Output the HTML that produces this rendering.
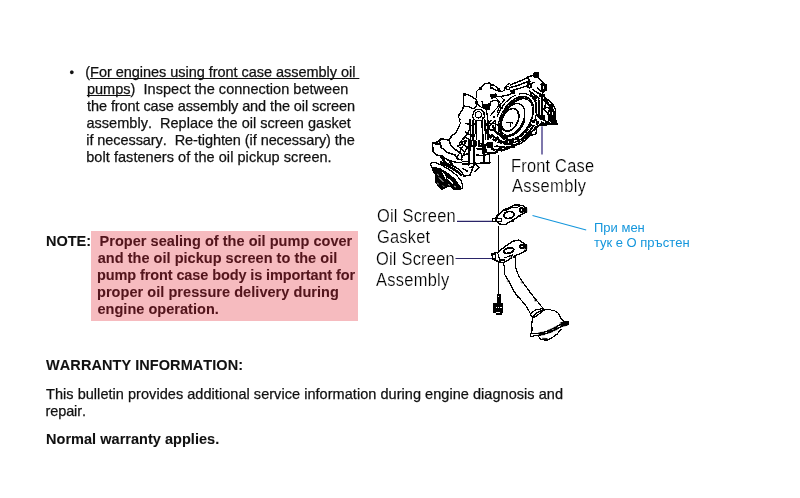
<!DOCTYPE html>
<html><head><meta charset="utf-8"><title>Oil pump bulletin</title>
<style>
html,body{margin:0;padding:0;background:#fff;}
body{will-change:transform;width:800px;height:498px;position:relative;overflow:hidden;font-family:"Liberation Sans",sans-serif;color:#111;}
.t{position:absolute;white-space:pre;font-size:14.5px;line-height:17px;height:17px;font-kerning:none;-webkit-text-stroke:0.25px currentColor;}
.b{font-weight:bold;-webkit-text-stroke:0.08px currentColor;}
.u{text-decoration:underline;text-decoration-thickness:1.2px;text-underline-offset:1px;text-decoration-skip-ink:none;}
#hl{position:absolute;left:91px;top:231px;width:267.4px;height:89.7px;background:#f6bbbf;}
.m{color:#53151c;}
.d{position:absolute;white-space:pre;font-size:17.6px;line-height:20px;color:#000;transform:scaleX(0.935);transform-origin:0 0;font-kerning:none;-webkit-text-stroke:0.2px #fff;letter-spacing:0.22px;}
.c{position:absolute;white-space:pre;font-size:13px;line-height:15px;color:#1496dc;font-kerning:none;}
svg{position:absolute;left:0;top:0;}
</style></head><body>
<div class="t" style="left:69.6px;top:63.6px;font-size:13px;">•</div>
<div class="t" style="left:85.3px;top:64px;letter-spacing:-0.037px;">(<span class="u">For engines using front case assembly oil </span></div>
<div class="t" style="left:86.9px;top:81px;letter-spacing:0.03px;"><span class="u">pumps</span>)  Inspect the connection between</div>
<div class="t" style="left:87.1px;top:98px;letter-spacing:-0.088px;">the front case assembly and the oil screen</div>
<div class="t" style="left:86.5px;top:115px;letter-spacing:0.019px;">assembly.  Replace the oil screen gasket</div>
<div class="t" style="left:86.25px;top:132px;letter-spacing:-0.07px;">if necessary.  Re-tighten (if necessary) the</div>
<div class="t" style="left:86.25px;top:149px;letter-spacing:0.051px;">bolt fasteners of the oil pickup screen.</div>

<div id="hl"></div>
<div class="t b" style="left:46px;top:233px;">NOTE:</div>
<div class="t b m" style="left:99.6px;top:233px;letter-spacing:0.036px;">Proper sealing of the oil pump cover</div>
<div class="t b m" style="left:97.75px;top:250px;letter-spacing:0.029px;">and the oil pickup screen to the oil</div>
<div class="t b m" style="left:97px;top:267px;letter-spacing:-0.104px;">pump front case body is important for</div>
<div class="t b m" style="left:97px;top:284px;letter-spacing:0.051px;">proper oil pressure delivery during</div>
<div class="t b m" style="left:97.5px;top:301px;letter-spacing:0.031px;">engine operation.</div>

<div class="t b" style="left:46.1px;top:357px;letter-spacing:0.06px;">WARRANTY INFORMATION:</div>
<div class="t" style="left:46px;top:386px;letter-spacing:0.044px;">This bulletin provides additional service information during engine diagnosis and</div>
<div class="t" style="left:45.6px;top:403px;letter-spacing:-0.125px;">repair.</div>
<div class="t b" style="left:46px;top:431px;letter-spacing:0.033px;">Normal warranty applies.</div>

<div class="d" style="left:510.8px;top:155.5px;letter-spacing:0.2px;">Front Case</div>
<div class="d" style="left:511.5px;top:175.5px;letter-spacing:0.4px;">Assembly</div>
<div class="d" style="left:376.8px;top:206px;">Oil Screen</div>
<div class="d" style="left:377.3px;top:226.5px;">Gasket</div>
<div class="d" style="left:376px;top:249px;">Oil Screen</div>
<div class="d" style="left:376.3px;top:269.5px;letter-spacing:0.3px;">Assembly</div>

<div class="c" style="left:594px;top:220px;">При мен</div>
<div class="c" style="left:594px;top:235px;">тук е О пръстен</div>

<svg width="800" height="498" viewBox="0 0 800 498">
<defs><clipPath id="clipFront"><path d="M510 60H600V160H498V140H465V122H420V120H510Z"/></clipPath><clipPath id="clipA"><path d="M420 60H510V120H420Z"/></clipPath><clipPath id="clipMount"><path d="M400 122H465V140H498V200H400Z"/></clipPath></defs>
<g id="lines" fill="none" stroke-linecap="butt">
<path d="M542 126.2V154.5" stroke="#30267a" stroke-width="1.25"/><path d="M539 125.6H547" stroke="#cfcbee" stroke-width="1"/>
<path d="M457 221.35H493" stroke="#2a2468" stroke-width="1.3"/>
<path d="M455.5 258.5H492.5" stroke="#2a2468" stroke-width="1.1"/>
<path d="M532.5 215.5L586.2 230" stroke="#1496dc" stroke-width="1.1"/>
</g>
<g id="drawing" shape-rendering="crispEdges">
<g clip-path="url(#clipFront)">
<g transform="translate(430,70) scale(0.1627)" stroke="#000" stroke-width="9" fill="none" stroke-linejoin="round" stroke-linecap="round">
<!-- outer silhouette -->
<path d="M205,160 L225,150 L290,175 L295,120 L335,95 L370,90 L420,125 L450,130 L470,100 L510,85 L560,65 L600,45 L655,25 L675,60 L700,80 L705,110 L690,150 L720,180 L750,205 L770,240 L770,300 L780,320 L760,330 L720,325 L680,335 L650,350 L620,390 L600,420 L560,450 L500,470 L430,480"/>
<path d="M205,160 L205,220 L215,240 L200,260 L180,290 L180,320 L160,360 L130,410 L100,430 L60,420 L40,440 L20,450 L20,498"/>
<!-- top-left lug -->
<path d="M290,175 L300,200 L295,230 L280,245 L215,235"/>
<path d="M208,150 h18 v16 h-18z M300,108 h16 v12 h-16z M398,118 h14 v12 h-14z M438,128 h14 v12 h-14z M205,232 h12 v12 h-12z" fill="#000" stroke-width="6.5"/>
<path d="M372,150 L405,145 L408,165 L378,172Z" fill="#000"/>
<path d="M380,95 L400,125 L440,142 M405,165 L470,155 L520,140"/>
<path d="M478,112 L540,95 L600,72 M470,135 L520,122 L590,100 L640,75"/>
<path d="M640,18 h26 v24 h-26z" fill="#000"/>
<path d="M600,45 L612,70 L600,90" stroke-width="12"/>
<circle cx="512" cy="136" r="9" stroke-width="10"/>
<circle cx="612" cy="98" r="11" stroke-width="10"/>
<path d="M685,88 L712,92 L712,125 L690,128Z" stroke-width="13"/>
<!-- cluster under top-left -->
<path d="M320,195 L326,225 M340,215 L372,205 M372,198 L395,188 L420,193 L428,218 L445,235"/>
<path d="M332,212 L365,210 L360,240 L338,238Z" fill="#000"/>
<path d="M300,200 L320,215 L330,240 M420,160 L440,185 L470,200" />
<!-- hex ring -->
<path d="M262,262 L285,240 L318,245 L335,272 L322,305 L288,312 L262,295Z" stroke-width="10"/>
<circle cx="298" cy="276" r="20"/>
<!-- ribs -->
<path d="M265,300 L265,470 M283,312 L285,440 M340,250 L340,440 M357,300 L357,430 M320,305 L322,400" stroke-width="9"/>
<path d="M262,330 L285,332 M262,440 L290,442" stroke-width="12"/>
<path d="M345,340 L445,235 M360,350 L455,250 M350,300 L420,230" />
<path d="M340,330 L400,330 L440,350 M345,365 L395,370"/>
<path d="M380,290 h14 v14 h-14z M352,345 h16 v14 h-16z M258,395 h14 v14 h-14z" fill="#000" stroke-width="6.5"/>
<!-- rings moved -->
<path d="M470,322 L510,326 M492,330 L494,350" stroke-width="7"/>
<!-- right side details -->
<path d="M690,150 L690,300 M668,180 L672,290 M650,200 L652,260" stroke-width="10"/>
<path d="M700,185 L730,215 L745,250 L745,300 M720,230 L765,255" />
<path d="M678,280 h24 v24 h-24z M730,282 h22 v26 h-22z M752,300 h20 v22 h-20z" fill="#000" stroke-width="7"/>
<path d="M690,235 L720,260 L740,280 M700,310 L730,320"/>
<path d="M610,130 L640,150 L670,175 M630,120 L660,140 L685,150" />
<path d="M640,160 h16 v16 h-16z M675,150 h14 v14 h-14z" fill="#000" stroke-width="6.5"/>
<path d="M700,150 L712,200 L705,240 M715,180 L740,230 L725,270 M745,215 L760,260 L760,300" stroke-width="11"/>
<path d="M660,110 L680,130 M620,150 L650,190 M655,270 L680,300" stroke-width="12"/>
<!-- lower right of ring -->
<path d="M640,340 L610,380 L570,420 L520,445 L460,455" stroke-width="10"/>
<path d="M650,300 L660,340 M620,400 L650,395 L655,370"/>
<!-- bottom details -->
<path d="M380,400 L420,430 L470,455 L520,460" stroke-width="12"/>
<path d="M340,440 L380,445 L420,470 L470,480 L520,475" stroke-width="10"/>
<path d="M350,455 h40 v30 h-40z" fill="#000"/>
<path d="M400,470 L440,498 M300,440 L340,470 L330,498"/>
<!-- left arm / filter mount -->
<path d="M180,320 L230,330 L262,345 M200,400 L230,420 L262,440 M215,380 L250,400"/>
</g>
</g>
<g clip-path="url(#clipA)">
<g transform="translate(430,70) scale(0.1004)" stroke="#000" stroke-width="12.5" fill="none" stroke-linejoin="round" stroke-linecap="round">
<path d="M335,262 L342,242 L370,240 L410,262 L450,287 L465,272 L462,215 L490,188 L500,180 L555,132 L595,130 L612,150 L635,150 L660,170 L680,185 L705,215 L725,212 L745,195 L750,165 L775,142 L797,135"/>
<path d="M597,135 L610,180 L640,195 L700,215"/>
<path d="M335,262 L335,355 L350,362 L375,362 L440,388 L455,368 L470,332 L462,292 L450,287"/>
<path d="M335,358 L325,392 L300,430 L285,445 L285,470 L300,498"/>
<path d="M332,232 h30 v26 h-30z M484,172 h30 v24 h-30z M598,170 h26 v22 h-26z M668,176 h26 v22 h-26z M328,346 h24 v22 h-24z M452,312 h24 v26 h-24z M630,455 h20 v20 h-20z M516,466 h18 v18 h-18z M282,438 h20 v20 h-20z" fill="#000" stroke="none"/>
<path d="M603,243 L657,238 L662,268 L612,282 Z" fill="#000" stroke-width="10"/>
<path d="M655,268 L720,260 L797,245"/>
<path d="M520,315 L530,372" stroke-width="16"/>
<path d="M542,345 L600,335 L595,392 L548,390Z" fill="#000" stroke-width="10"/>
<path d="M600,320 L640,300 L680,310 L690,350 L720,385 M470,335 L500,365 L540,385"/>
<path d="M432,420 L455,395 L510,392 L538,420 L540,470 L520,498 M432,420 L425,465 L440,498" stroke-width="12"/>
<circle cx="482" cy="447" r="31" stroke-width="11"/>
<path d="M560,380 L568,440 L575,498"/>
<path d="M745,290 L700,350 L670,420 M600,455 L700,340" stroke-width="10.5"/>
<circle cx="775" cy="182" r="16" stroke-width="12"/>
<path d="M700,262 L740,300 M660,280 L700,330" stroke-width="10.5"/>
</g>
</g>
<g stroke="#000" fill="none">
<g transform="rotate(-60 516 118.6)">
<ellipse cx="516" cy="118.6" rx="27" ry="18" stroke-width="1.1" stroke-dasharray="30 3 12 4"/>
<path fill="#000" fill-rule="evenodd" stroke="none" d="M491.2,118.6 a24.8,15.4 0 1,0 49.6,0 a24.8,15.4 0 1,0 -49.6,0 Z M494.4,119.6 a21.6,12.6 0 1,0 43.2,0 a21.6,12.6 0 1,0 -43.2,0 Z"/>
<path d="M492.8,119.6 A23.2,14 0 0 1 539.2,117.6" stroke-width="3" stroke-linecap="butt"/>
<ellipse cx="516" cy="118.6" rx="23.2" ry="13.9" stroke="#fff" stroke-width="0.8" stroke-dasharray="1.2 8.3"/>
</g>
<ellipse cx="512.6" cy="119.4" rx="17" ry="10.4" transform="rotate(-62 512.6 119.4)" stroke-width="1.1"/>
<ellipse cx="510.1" cy="119.9" rx="12" ry="7.8" transform="rotate(-65 510.1 119.9)" stroke-width="1.7"/>
</g>
<g stroke="#000" stroke-width="1.1" fill="none" stroke-linejoin="round" stroke-linecap="round">
<path d="M459.4,121.5 L460.6,123 L457.3,130"/>
<path d="M459.6,143.4 L463.2,138.2 L467.2,134.1 L469.2,130.1 L470.7,124.1" stroke-width="1.2"/>
<path d="M457.6,146.6 L461,141.5 L465,137.5 L467.4,132.5" stroke-width="1.2" stroke-dasharray="1.4 1.6"/>
<path d="M470.7,120 V150" stroke-width="1.5"/>
<path d="M470.2,120 V126" stroke-width="2.4"/>
<path d="M482.5,126 V142 M484.3,120 V130" stroke-width="1.2"/>
</g>
<g transform="translate(480,120) scale(0.1)" stroke="#000" fill="none" stroke-linejoin="round" stroke-linecap="round">
<path d="M130,60 C150,130 220,185 300,160 S 420,70 445,0" stroke-width="22"/>
<path d="M55,90 C90,190 190,250 300,215 S 480,90 540,0" stroke-width="26" stroke-dasharray="46 14" stroke-linecap="butt"/>
<path d="M0,235 L100,258 L150,298 L250,300 L350,252 L450,182 L540,102 L600,52" stroke-width="13"/>
<path d="M30,150 V330" stroke-width="26"/>
<path d="M90,230 L110,270 M200,265 L240,270 M380,200 L400,215 M470,130 L500,120" stroke-width="18"/>
<path d="M560,20 L640,30 L700,10 L780,30" stroke-width="24" stroke-dasharray="30 16" stroke-linecap="butt"/>
<path d="M600,52 L700,48 L780,40" stroke-width="12"/>
</g>
<g clip-path="url(#clipMount)">
<g transform="translate(420,130) scale(0.125)" stroke="#000" stroke-width="12" fill="none" stroke-linejoin="round" stroke-linecap="round">
<!-- arm -->
<path d="M100,110 L150,90 L170,70 L230,80 L250,130 L300,170 L330,190 L335,240 L300,232 L280,200 L220,180 L170,140 L160,100"/>
<path d="M100,110 L105,170 L130,200 L180,210 L220,240 L290,260 L330,262"/>
<path d="M100,105 L150,112" stroke-width="16"/>
<path d="M180,220 L200,260 L290,300 L330,330 L350,370 L400,360 L420,310 L440,270"/>
<path d="M170,215 L185,240 M240,255 L255,270" stroke-width="16"/>
<path d="M160,256 L230,290 L300,334 L334,366" stroke-width="20" stroke-linecap="butt"/>
<path d="M178,222 L200,255" stroke-width="18"/>
<path d="M260,40 L230,80 M300,0 L280,30 L260,40" />
<!-- ribs right of arm -->
<path d="M390,60 L390,280 M432,60 L432,260 M510,130 L510,270 M555,190 L555,262 M340,272 L440,268 L560,262"/>
<path d="M412,85 h34 v42 h-34z" stroke-width="12"/>
<path d="M330,100 L370,80 M320,140 L350,170 M350,120 L370,130 M300,130 L340,110" stroke-width="12"/>
<path d="M470,130 L520,120 L560,100 M520,120 L530,180 L600,185 L640,160" stroke-width="13"/>
<path d="M570,150 L620,180 L650,170 M600,130 L700,120 L800,80" stroke-width="10"/>
<path d="M540,105 h40 v30 h-40z" fill="#000"/>
<path d="M300,215 L325,160 L350,120 L385,65 M330,235 L360,170 L385,130" stroke-width="12" stroke-dasharray="22 12"/>
<path d="M345,250 L385,250 M350,200 L385,190 M440,270 L470,300 L440,330 M400,300 L430,290 M345,310 L380,330" stroke-width="12"/>
<path d="M470,60 L470,125 M452,150 L510,150 M455,200 L505,205 M520,200 L550,190" stroke-width="12"/>
<path d="M425,255 h24 v22 h-24z M340,262 h18 v18 h-18z M500,110 h24 v22 h-24z M610,150 h22 v20 h-22z M355,95 h16 v16 h-16z" fill="#000" stroke="none"/>
</g>
<g transform="translate(425,150) scale(0.0844)" stroke="#000" stroke-width="14" fill="none" stroke-linejoin="round" stroke-linecap="round">
<path d="M85,210 L100,260 L130,300 L120,370 L140,400 L170,440 L200,470 L250,440 L300,430 L330,460 L400,470 L420,440 L380,370 L300,290 L200,230 L100,205 Z" fill="#000"/>
<path d="M65,165 L75,150 L110,145 L200,180 L300,240 L380,305 L430,370 L445,420 L440,455 L400,472" stroke-width="15"/>
<path d="M66,170 L85,210" stroke-width="16"/>
<path d="M95,183 L180,205 L280,265 L370,340 L420,420" stroke="#fff" stroke-width="17"/>
<path d="M205,262 L235,300 L240,335 M265,335 L330,395" stroke="#fff" stroke-width="13"/>
<path d="M170,330 L215,375 M150,290 l10,8 M150,395 l8,6 M215,425 l6,6 M280,410 l10,6 M350,430 l12,6" stroke="#fff" stroke-width="11"/>
</g>
</g>
<g stroke="#000" stroke-width="1.2" fill="none">
<path d="M498.5,155 V213 M498.5,226 V251 M498.5,263 V294"/>
</g>
<g transform="translate(450,195) scale(0.125)" stroke="#000" stroke-width="11" fill="none" stroke-linejoin="round" stroke-linecap="round">
<path d="M370,170 L430,120 L500,88 L520,80 L575,82 L610,105 L612,138 L560,162 L520,190 L440,238 L395,232 L365,205 Z"/>
<path d="M440,125 L500,100 L560,95" stroke-width="8"/>
<ellipse cx="472" cy="160" rx="42" ry="27" transform="rotate(-8 472 160)" stroke-width="13"/>
<circle cx="572" cy="121" r="15" stroke-width="15"/>
<path d="M592,106 h22 v32 h-22z" fill="#000" stroke-width="6"/>
<path d="M368,188 L392,150" stroke-width="16"/>
<path d="M340,190 h70 v24 h-70z" stroke-width="9"/>
<path d="M372,190 v24" stroke-width="8"/>
<path d="M555,168 l4,4 M500,205 l4,3" stroke-width="12"/>
</g>
<g transform="translate(450,235) scale(0.125)" stroke="#000" stroke-width="11" fill="none" stroke-linejoin="round" stroke-linecap="round">
<path d="M335,150 L380,140 L430,100 L500,50 L550,40 L610,80 L615,120 L560,150 L520,165 L500,180 L430,220 L390,215 L340,190 Z"/>
<path d="M337,152 h28 v38 h-28z" stroke-width="10"/>
<ellipse cx="470" cy="125" rx="40" ry="20" transform="rotate(-15 470 125)" stroke-width="15"/>
<circle cx="577" cy="92" r="15" stroke-width="16"/>
<path d="M596,78 h18 v34 h-18z" fill="#000" stroke-width="5"/>
<path d="M440,182 L500,160 M380,140 L400,200 M395,200 L440,200" stroke-width="10"/>
<path d="M430,220 L440,320 L470,370 L500,430 L540,496 M520,170 L525,260 L550,330 L590,390 L660,480" stroke-width="9"/>
<path d="M462,362 h12 v12 h-12z M572,372 h12 v12 h-12z M484,170 h12 v12 h-12z" fill="#000" stroke-width="3"/>
</g>
<g transform="translate(480,285) scale(0.125)" stroke="#000" stroke-width="10" fill="none" stroke-linejoin="round" stroke-linecap="round">
<path d="M148,0 V70" stroke-width="8" stroke-linecap="butt"/>
<path d="M132,70 h32 v72 h-32z" fill="#000" stroke="none"/>
<path d="M144,84 h8 v8 h-8z" fill="#fff" stroke="none"/>
<path d="M104,140 h80 v82 h-80z M124,222 h48 v18 h-48z" fill="#000" stroke="none"/>
<path d="M124,176 h10 v8 h-10z M143,176 h10 v8 h-10z M162,176 h10 v8 h-10z M130,214 h32 v8 h-32z" fill="#fff" stroke="none"/>
<path d="M245,0 L270,50 L320,110 L370,170 L405,232 M360,0 L400,60 L450,120 L505,188" stroke-width="9"/>
<path d="M440,115 h14 v14 h-14z" fill="#000" stroke-width="3"/>
</g>
<g transform="translate(520,300) scale(0.1003)" stroke="#000" stroke-width="12" fill="none" stroke-linejoin="round" stroke-linecap="round">
<path d="M105,140 L150,100 L225,85 L235,100 L190,140 L140,175 L110,160Z M130,165 L170,125 L230,100"/>
<path d="M125,175 L118,240 L120,300 L110,330"/>
<path d="M235,100 L290,95 L350,110 L380,130 L400,170 L430,210 L470,215"/>
<path d="M105,330 L105,362 L180,355 L260,335 L340,300 L420,262 L482,245 L488,215 L440,222 L370,262 L300,300 L220,328 L150,338 Z" stroke-width="11"/>
<path d="M190,325 L250,318 L250,345 L195,352Z M280,300 L320,285 L325,318 L285,330Z M335,275 L372,258 L375,292 L340,308Z M405,225 L480,215 L478,250 L410,268Z" fill="#000" stroke-width="6"/>
<path d="M185,365 L210,395 L270,400 L320,375 L370,340 L410,290" stroke-width="12"/>
<path d="M225,382 L270,384" stroke-width="9"/>
</g>

</g>
</svg>
</body></html>
